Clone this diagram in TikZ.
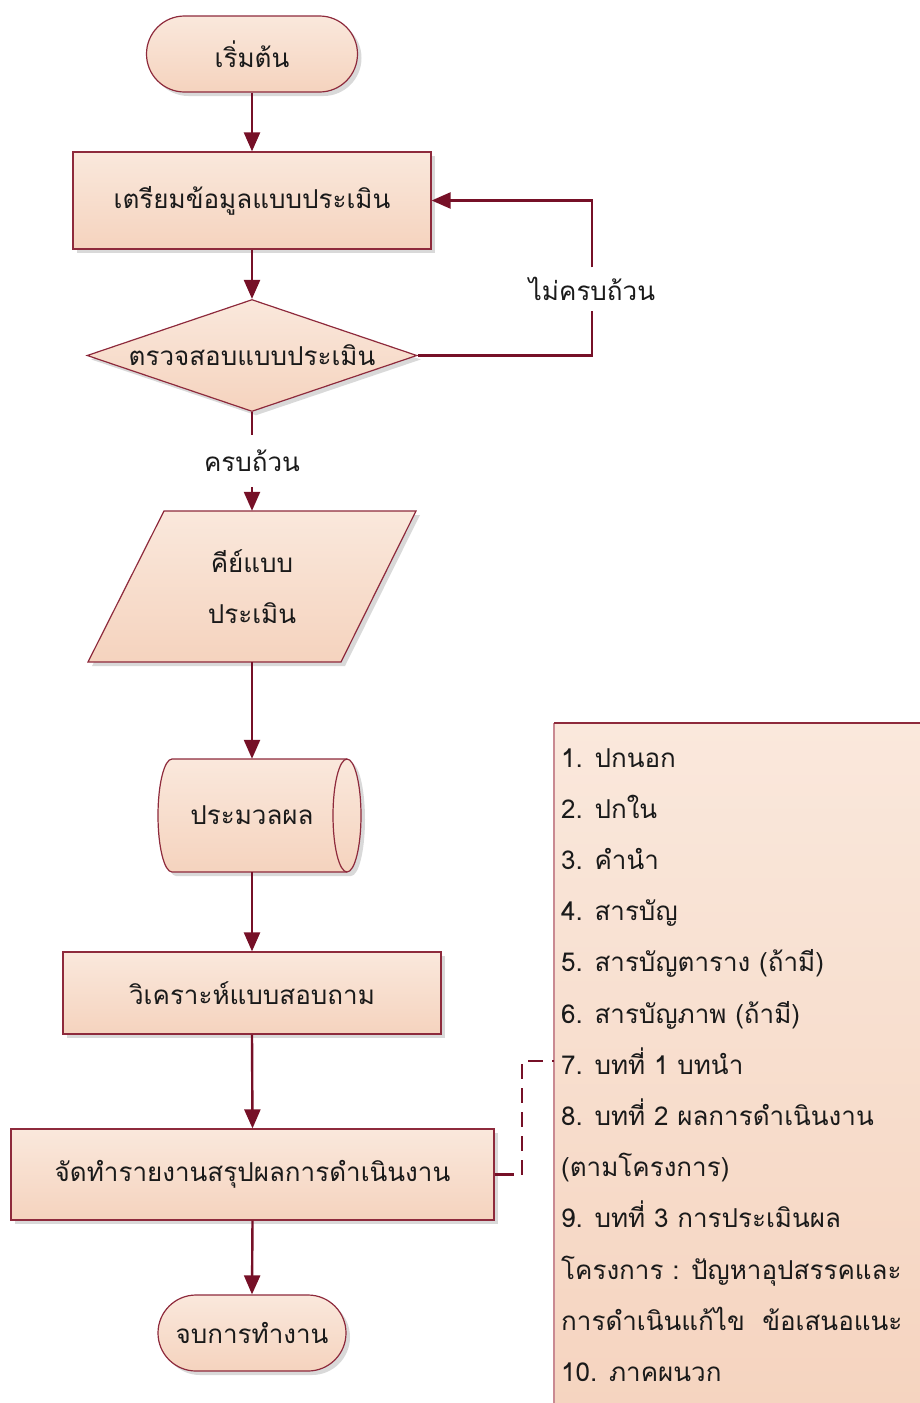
\documentclass[tikz,border=0pt]{standalone}
\usepackage{fontspec}
\newfontfamily\thaifont[Script=Thai]{Loma}
\usetikzlibrary{shapes.geometric,shapes.misc,shadows,arrows.meta}

\definecolor{edge}{HTML}{8E2A3C}
\definecolor{wire}{HTML}{761027}
\definecolor{filltop}{HTML}{FAE8DC}
\definecolor{fillbot}{HTML}{F5D3BE}
\definecolor{ink}{HTML}{1A1A1A}
\definecolor{noteline}{HTML}{C98A92}
\definecolor{shade}{HTML}{D9D9D9}

\tikzset{
  x=1pt, y=1pt,
  txt/.style={font=\thaifont\fontsize{26}{51}\selectfont, text=ink, inner sep=0pt, align=center},
  flowshape/.style={draw=edge, line width=1.2pt, top color=filltop, bottom color=fillbot,
    drop shadow={shadow xshift=4pt, shadow yshift=-4pt, fill=shade, opacity=1}},
  boxnode/.style={flowshape, txt, rectangle},
  termnode/.style={flowshape, txt, rounded rectangle},
  flow/.style={draw=wire, line width=2.4pt, -{Triangle[length=19pt,width=16pt]}},
  plainwire/.style={draw=wire, line width=2.4pt},
  callout/.style={draw=wire, line width=2.4pt, dash pattern=on 15pt off 9pt},
  caselabel/.style={txt, fill=white, minimum width=20pt},
}

\begin{document}
\begin{tikzpicture}
\useasboundingbox (0,0) rectangle (919,-1403);

% start / end terminals
\node[termnode, minimum width=211pt, minimum height=76pt] (start) at (252,-54) {เริ่มต้น};
\node[boxnode, minimum width=358pt, minimum height=97pt] (prep) at (252,-200.5) {เตรียมข้อมูลแบบประเมิน};

% decision
\node[flowshape, diamond, inner sep=0pt, minimum width=330pt, minimum height=112pt] (chk) at (252,-355.5) {};
\node[txt] (chktext) at (chk.center) {ตรวจสอบแบบประเมิน};

% branch labels
\node[caselabel, minimum height=43pt] (no) at (592,-289) {ไม่ครบถ้วน};
\node[caselabel, minimum height=52pt] (yes) at (252,-461) {ครบถ้วน};

% input (parallelogram)
\path[flowshape] (164,-511) -- (416,-511) -- (341,-662) -- (88,-662) -- cycle;
\node[txt, minimum height=151pt] (key) at (252,-586.5) {คีย์แบบ\\ประเมิน};

% processing drum
\path[flowshape] (172,-759) -- (347,-759)
  arc[start angle=90, end angle=-90, x radius=14, y radius=56.5]
  -- (172,-872)
  arc[start angle=270, end angle=90, x radius=14, y radius=56.5] -- cycle;
\draw[edge, line width=1.2pt] (347,-759) arc[start angle=90, end angle=270, x radius=14, y radius=56.5];
\node[txt, minimum height=113pt] (proc) at (252,-815.5) {ประมวลผล};

\node[boxnode, minimum width=378pt, minimum height=82pt] (anal) at (252,-993) {วิเคราะห์แบบสอบถาม};
\node[boxnode, minimum width=483pt, minimum height=91pt] (report) at (252.5,-1174.5) {จัดทำรายงานสรุปผลการดำเนินงาน};
\node[termnode, minimum width=188pt, minimum height=76pt] (finish) at (252,-1333) {จบการทำงาน};

% connectors
\draw[flow] (start.south) -- (prep.north);
\draw[flow] (prep.south) -- (chk.north);
\draw[plainwire] (chk.east) -| (no.south);
\draw[flow] (no.north) |- (prep.east);
\draw[plainwire] (chk.south) -- (yes.north);
\draw[flow] (yes.south) -- (key.north);
\draw[flow] (key.south) -- (proc.north);
\draw[flow] (proc.south) -- (anal.north);
\draw[flow] (anal.south) -- (report.north);
\draw[flow] (report.south) -- (finish.north);

% report contents note
\node[anchor=north west, inner sep=0pt, minimum width=400pt, minimum height=720pt,
      top color=filltop, bottom color=fillbot] (notes) at (554,-723) {};
\draw[noteline, line width=1.2pt] (notes.north west) -- (notes.south west);
\draw[edge, line width=1.6pt] (notes.north west) -- (notes.north east);
\foreach [count=\i] \t in {1. ปกนอก, 2. ปกใน, 3. คำนำ, 4. สารบัญ, 5. สารบัญตาราง (ถ้ามี),
    6. สารบัญภาพ (ถ้ามี), 7. บทที่ 1 บทนำ, 8. บทที่ 2 ผลการดำเนินงาน, (ตามโครงการ),
    9. บทที่ 3 การประเมินผล, โครงการ : ปัญหาอุปสรรคและ, การดำเนินแก้ไข \ ข้อเสนอแนะ, 10. ภาคผนวก}
  \node[txt, anchor=base west] (item\i) at (561,{-767-51.2*(\i-1)}) {\t};

% callout from the report step to the note
\coordinate (bend) at (522,-1174.5);
\coordinate (hook) at (notes.north west |- item7.center);
\draw[plainwire] (report.east) -- ++(19,0);
\draw[callout] (bend) -- (bend |- hook) -- (hook);
\end{tikzpicture}
\end{document}
